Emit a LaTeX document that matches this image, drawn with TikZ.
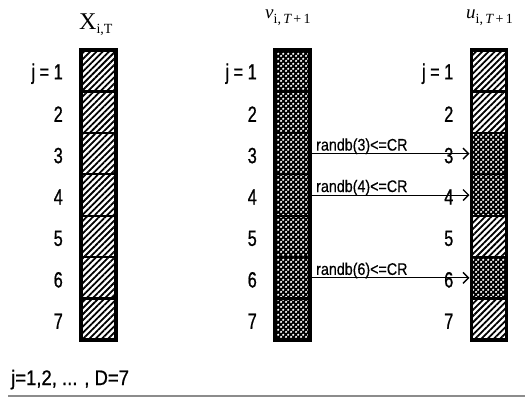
\documentclass[tikz,border=0pt]{standalone}
\usepackage{fontspec}
\usetikzlibrary{patterns,patterns.meta,calc,arrows.meta}
\newfontfamily\labfont[FakeStretch=0.74,FakeBold=0.8]{Liberation Sans}
\newfontfamily\randfont[FakeStretch=0.85,FakeBold=0.5]{Liberation Sans}
\newfontfamily\footfont[FakeStretch=0.88,FakeBold=0.8]{Liberation Sans}
\newfontfamily\serfont{Liberation Serif}
\tikzdeclarepattern{
  name=wdots,
  type=uncolored,
  bounding box={(0,0) and (5pt,5pt)},
  tile size={(5pt,5pt)},
  code={\fill (1.25pt,1.25pt) circle (1.35pt); \fill (3.75pt,3.75pt) circle (1.35pt);}
}
\tikzset{
  cell/.style={draw=black, line width=2.2pt, minimum width=35pt, minimum height=41.43pt, inner sep=0pt, outer sep=0pt},
  hatchcell/.style={cell, pattern={Lines[angle=45,distance=4.4pt,line width=1.8pt]}},
  dotcell/.style={cell, preaction={fill=black}, pattern=wdots, pattern color=white},
  rowlab/.style={font=\labfont\fontsize{22}{22}\selectfont, anchor=east, inner sep=0pt},
  randlab/.style={font=\randfont\fontsize{16.8}{16.8}\selectfont, anchor=base west, inner sep=0pt},
  colframe/.style={draw=black, line width=3.5pt},
  head/.style={font=\serfont, inner sep=0pt, anchor=base west},
  conn/.style={line width=0.8pt, -{Straight Barb[length=5.5pt,width=11pt,line width=1.4pt]}, shorten >=2pt}
}
\begin{document}
\begin{tikzpicture}[x=1pt,y=-1pt]
\useasboundingbox (0,0) rectangle (525,397);
% columns
\foreach \k in {1,...,7} {
  \node[hatchcell] (L\k) at (98.5, {50+41.43*(\k-0.5)}) {};
  \node[dotcell] (M\k) at (292.5, {50+41.43*(\k-0.5)}) {};
}
\node[hatchcell] (R1) at (489, {50+41.43*0.5}) {};
\node[hatchcell] (R2) at (489, {50+41.43*1.5}) {};
\node[dotcell]   (R3) at (489, {50+41.43*2.5}) {};
\node[dotcell]   (R4) at (489, {50+41.43*3.5}) {};
\node[hatchcell] (R5) at (489, {50+41.43*4.5}) {};
\node[dotcell]   (R6) at (489, {50+41.43*5.5}) {};
\node[hatchcell] (R7) at (489, {50+41.43*6.5}) {};
\draw[colframe] (L1.north west) rectangle (L7.south east);
\draw[colframe] (M1.north west) rectangle (M7.south east);
\draw[colframe] (R1.north west) rectangle (R7.south east);
% headings
\node[head] (hX) at (79,29) {\fontsize{24}{24}\selectfont X\raisebox{-4.5pt}{\fontsize{14}{14}\selectfont i,T}};
\node[head] (hV) at (265,18) {\fontsize{19}{19}\selectfont\itshape v\raisebox{-5pt}{\fontsize{14}{14}\selectfont\upshape i,\,\itshape T\upshape\,+\,1}};
\node[head] (hU) at (466,18) {\fontsize{19}{19}\selectfont\itshape u\raisebox{-5pt}{\fontsize{14}{14}\selectfont\upshape i,\,\itshape T\upshape\,+\,1}};
% row labels
\foreach \c in {L,M,R} {
  \node[rowlab] (\c lab1) at ($(\c1.west)+(-18,3)$) {j = 1};
  \foreach \k in {2,...,7} {
    \node[rowlab] (\c lab\k) at ($(\c\k.west)+(-18,2)$) {\k};
  }
}
% connectors
\draw[conn] (M3.east) -- (R3.west);
\draw[conn] (M4.east) -- (R4.west);
\draw[conn] (M6.east) -- (R6.west);
\node[randlab] (t3) at ($(M3.east)+(6,-3)$) {randb(3)<=CR};
\node[randlab] (t4) at ($(M4.east)+(6,-3)$) {randb(4)<=CR};
\node[randlab] (t6) at ($(M6.east)+(6,-3)$) {randb(6)<=CR};
% bottom
\node[font=\footfont\fontsize{21}{21}\selectfont, anchor=base west, inner sep=0pt] (foot) at (11,385) {j=1,2, ... , D=7};
\coordinate (ls) at (8,396);
\coordinate (le) at (525,396);
\draw[black!45, line width=1.2pt] (ls) -- (le);
\end{tikzpicture}
\end{document}
